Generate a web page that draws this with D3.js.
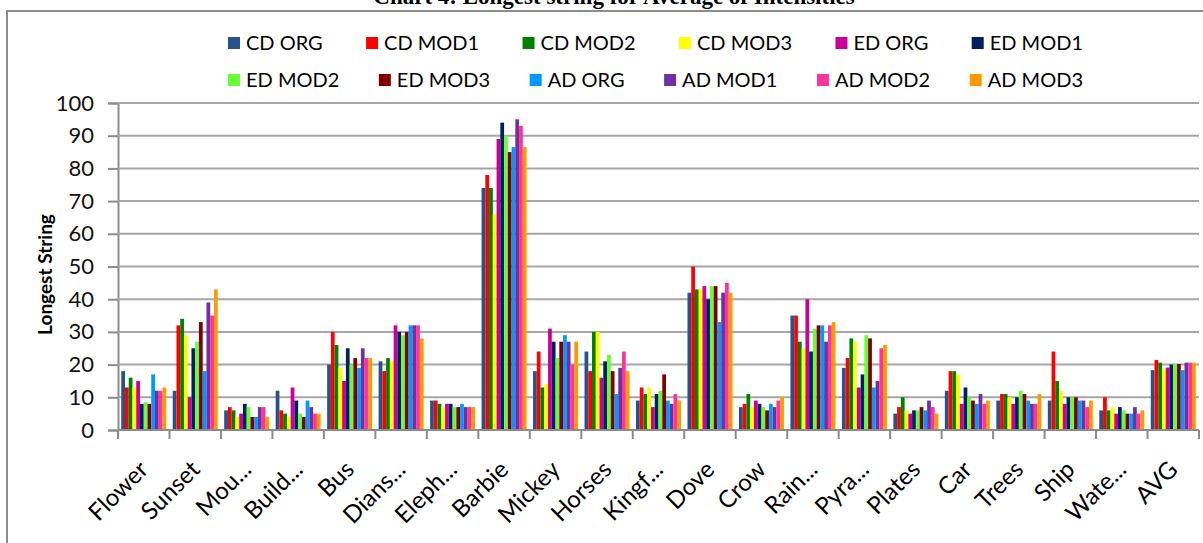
<!DOCTYPE html>
<html>
<head>
<meta charset="utf-8">
<script src="https://cdn.jsdelivr.net/npm/d3@7/dist/d3.min.js"></script>
<style>
  html, body { margin: 0; padding: 0; background: #fff; }
  svg { display: block; }
  text { font-family: Lato, "Open Sans", sans-serif; }
</style>
</head>
<body>
<svg id="chart" width="1203" height="543"></svg>
<script>
// Categories (images) shown along the x axis
const categories = ["Flower", "Sunset", "Mou...", "Build...", "Bus", "Dians...", "Eleph...", "Barbie", "Mickey", "Horses", "Kingf...", "Dove", "Crow", "Rain...", "Pyra...", "Plates", "Car", "Trees", "Ship", "Wate...", "AVG"];

// Series names and colours
const seriesNames = ["CD ORG", "CD MOD1", "CD MOD2", "CD MOD3", "ED ORG", "ED MOD1", "ED MOD2", "ED MOD3", "AD ORG", "AD MOD1", "AD MOD2", "AD MOD3"];
const seriesColors = ["#2A5189", "#FF0000", "#008000", "#FFFF00", "#CC0099", "#002060", "#66FF33", "#800000", "#0099FF", "#7030A0", "#FF3399", "#FF9900"];

// Longest string per category, one array per series
const cdOrg  = [18, 12, 6, 12, 20, 21, 9, 74, 18, 24, 9, 42, 7, 35, 19, 5, 12, 9, 9, 6, 18.3];
const cdMod1 = [13, 32, 7, 6, 30, 18, 9, 78, 24, 18, 13, 50, 8, 35, 22, 7, 18, 11, 24, 10, 21.4];
const cdMod2 = [16, 34, 6, 5, 26, 22, 8, 74, 13, 30, 11, 43, 11, 27, 28, 10, 18, 11, 15, 6, 20.6];
const cdMod3 = [13, 29, 4, 4, 19, 21, 7, 66, 14, 30, 13, 43, 7, 25, 27, 6, 17, 10, 12, 7, 18.6];
const edOrg  = [15, 10, 5, 13, 15, 32, 8, 89, 31, 16, 7, 44, 9, 40, 13, 5, 8, 8, 8, 5, 19.1];
const edMod1 = [8, 25, 8, 9, 25, 30, 8, 94, 27, 21, 11, 40, 8, 24, 17, 6, 13, 10, 10, 7, 20];
const edMod2 = [8.5, 27, 7, 5, 20, 29, 7, 90, 22, 23, 12, 44, 7, 31, 29, 6, 10, 12, 10, 6, 20.2];
const edMod3 = [8, 33, 4, 4, 22, 30, 7, 85, 27, 18, 17, 44, 6, 32, 28, 7, 9, 11, 10, 5, 20.2];
const adOrg  = [17, 18, 4, 9, 19, 32, 8, 86.5, 29, 11, 9, 33, 8, 32, 13, 6, 8, 9, 9, 5, 18.3];
const adMod1 = [12, 39, 7, 7, 25, 32, 7, 95, 27, 19, 8, 42, 7, 27, 15, 9, 11, 8, 9, 7, 20.6];
const adMod2 = [12, 35, 7, 5, 22, 32, 7, 93, 20, 24, 11, 45, 9, 32, 25, 7, 8, 8, 7, 5, 20.6];
const adMod3 = [13, 43, 4, 5, 22, 28, 7, 86.5, 27, 18, 9, 42, 10, 33, 26, 5, 9, 11, 9, 6, 20.6];

const seriesValues = [cdOrg, cdMod1, cdMod2, cdMod3, edOrg, edMod1, edMod2, edMod3, adOrg, adMod1, adMod2, adMod3];

// Y axis ticks
const yTicks = [0, 10, 20, 30, 40, 50, 60, 70, 80, 90, 100];

const titleText = "Chart 4: Longest string for Average of Intensities";
const yTitle = "Longest String";

// ---- layout ----
const W = 1203, H = 543;
const plot = { left: 118, right: 1199, top: 103, bottom: 430 };

const svg = d3.select("#chart");
svg.append("rect").attr("width", W).attr("height", H).attr("fill", "#fff");

// chart frame
svg.append("rect")
  .attr("x", 7).attr("y", 11)
  .attr("width", W + 20).attr("height", H + 20)
  .attr("fill", "none").attr("stroke", "#8c8c8c").attr("stroke-width", 2);

// title (sits above the frame, partly cut by the page edge)
svg.append("text")
  .attr("x", 614).attr("y", 4)
  .attr("text-anchor", "middle")
  .style("font-family", "'Liberation Serif', 'Times New Roman', serif")
  .style("font-weight", "bold")
  .style("font-size", "23px")
  .text(titleText);

// ---- scales ----
const x0 = d3.scaleBand()
  .domain(categories)
  .range([plot.left, plot.right])
  .paddingInner(0.126)
  .paddingOuter(0.063);

const x1 = d3.scaleBand()
  .domain(seriesNames)
  .range([0, x0.bandwidth()]);

const y = d3.scaleLinear().domain([0, 100]).range([plot.bottom, plot.top]);

// ---- gridlines + y axis ----
const yAxis = d3.axisLeft(y).tickValues(yTicks).tickSize(10).tickPadding(14);
const gy = svg.append("g").attr("transform", `translate(${plot.left},0)`).call(yAxis);
gy.select(".domain").attr("stroke", "#8c8c8c").attr("stroke-width", 2);
gy.selectAll(".tick line").attr("stroke", "#8c8c8c").attr("stroke-width", 2);
gy.selectAll(".tick text")
  .style("font-size", "22px")
  .style("font-family", "Lato, sans-serif")
  .attr("fill", "#111");

svg.append("g")
  .selectAll("line")
  .data(yTicks.filter(d => d > 0))
  .join("line")
  .attr("x1", plot.left).attr("x2", plot.right)
  .attr("y1", d => y(d)).attr("y2", d => y(d))
  .attr("stroke", "#a6a6a6").attr("stroke-width", 2);

// y-axis title
svg.append("text")
  .attr("transform", `translate(52,${(plot.top + plot.bottom) / 2 + 8}) rotate(-90)`)
  .attr("text-anchor", "middle")
  .style("font-weight", "bold")
  .style("font-size", "19px")
  .text(yTitle);

// ---- bars ----
const groups = svg.append("g")
  .selectAll("g")
  .data(categories)
  .join("g")
  .attr("transform", c => `translate(${x0(c)},0)`);

groups.selectAll("rect")
  .data((c, ci) => seriesNames.map((s, si) => ({ s, v: seriesValues[si][ci], color: seriesColors[si] })))
  .join("rect")
  .attr("x", d => x1(d.s))
  .attr("width", x1.bandwidth())
  .attr("y", d => y(d.v))
  .attr("height", d => y(0) - y(d.v))
  .attr("fill", d => d.color);

// ---- x axis ----
const step = x0.step();
const gx = svg.append("g");
gx.append("line")
  .attr("x1", plot.left).attr("x2", plot.right)
  .attr("y1", plot.bottom).attr("y2", plot.bottom)
  .attr("stroke", "#8c8c8c").attr("stroke-width", 2);
gx.selectAll("line.tk")
  .data(d3.range(categories.length + 1))
  .join("line")
  .attr("class", "tk")
  .attr("x1", i => plot.left + i * step).attr("x2", i => plot.left + i * step)
  .attr("y1", plot.bottom).attr("y2", plot.bottom + 9)
  .attr("stroke", "#8c8c8c").attr("stroke-width", 2);

gx.selectAll("text")
  .data(categories)
  .join("text")
  .attr("transform", c => `translate(${x0(c) + x0.bandwidth() / 2 + 6},${plot.bottom + 41}) rotate(-45)`)
  .attr("text-anchor", "end")
  .style("font-size", "24px")
  .text(c => c);

// ---- legend (two justified rows) ----
const legendRows = [seriesNames.slice(0, 6), seriesNames.slice(6)];
const legendLeft = 228, legendRight = 1083;
const rowY = [43, 80];
const swatch = 12, swGap = 6;

legendRows.forEach((row, ri) => {
  const g = svg.append("g");
  const items = g.selectAll("g")
    .data(row)
    .join("g");
  items.append("rect")
    .attr("width", swatch).attr("height", swatch)
    .attr("y", rowY[ri] - swatch / 2)
    .attr("fill", s => seriesColors[seriesNames.indexOf(s)]);
  items.append("text")
    .attr("x", swatch + swGap)
    .attr("y", rowY[ri])
    .attr("dy", "0.35em")
    .style("font-size", "20px")
    .text(s => s);
  // measure and spread evenly between the two edges
  const widths = [];
  items.each(function () { widths.push(this.getBBox().width); });
  const total = d3.sum(widths);
  const gap = (legendRight - legendLeft - total) / (row.length - 1);
  let cx = legendLeft;
  items.attr("transform", (s, i) => {
    const t = `translate(${cx},0)`;
    cx += widths[i] + gap;
    return t;
  });
});
</script>
</body>
</html>
